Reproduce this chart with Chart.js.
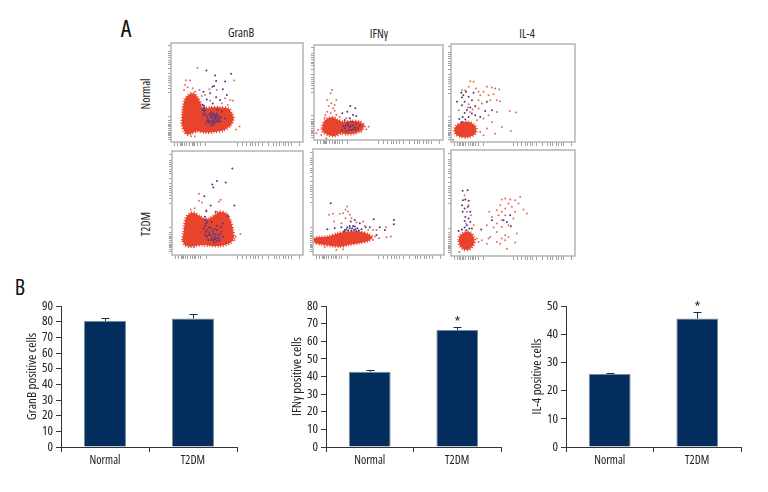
<!DOCTYPE html>
<html>
<head>
<meta charset="utf-8">
<title>GranB, IFNγ and IL-4 positive cells</title>
<script src="https://cdn.jsdelivr.net/npm/chart.js@4"></script>
<style>
  html, body { margin: 0; padding: 0; background: #fff; }
  #page { position: relative; width: 768px; height: 492px; overflow: hidden; font-family: "Open Sans", sans-serif; font-stretch: condensed; color: #222; }
  canvas { position: absolute; display: block; }
  .lbl { position: absolute; font-size: 12px; line-height: 14px; white-space: nowrap; transform: translate(-50%, -50%); }
  .rot { transform: translate(-50%, -50%) rotate(-90deg); }
  .big { font-size: 24px; line-height: 26px; color: #111; }
  .flow { filter: blur(0.5px); }

  /* flow panels: box is the frame plus 6px for the ticks on each side */
  #granbNormal { left: 165px; top: 37px;  width: 144px; height: 111px; }
  #granbT2dm   { left: 166px; top: 145px; width: 143px; height: 116px; }
  #ifnNormal   { left: 308px; top: 39px;  width: 141px; height: 107px; }
  #ifnT2dm     { left: 307px; top: 143px; width: 143px; height: 118px; }
  #il4Normal   { left: 445px; top: 38px;  width: 136px; height: 110px; }
  #il4T2dm     { left: 445px; top: 144px; width: 136px; height: 118px; }

  #barGranb { left: 10px;  top: 295px; width: 230px; height: 185px; }
  #barIfn   { left: 275px; top: 295px; width: 229px; height: 185px; }
  #barIl4   { left: 515px; top: 295px; width: 229px; height: 185px; }
</style>
</head>
<body>
<div id="page">
  <div class="lbl big" style="left:126px;top:28px">A</div>
  <div class="lbl big" style="left:20px;top:286px;font-size:22px">B</div>
  <div class="lbl" style="left:241px;top:33px">GranB</div>
  <div class="lbl" style="left:379px;top:34px">IFNγ</div>
  <div class="lbl" style="left:527px;top:34px">IL-4</div>
  <div class="lbl rot" style="left:146px;top:94px">Normal</div>
  <div class="lbl rot" style="left:146px;top:224px">T2DM</div>

  <canvas class="flow" id="granbNormal" width="144" height="111"></canvas>
  <canvas class="flow" id="granbT2dm" width="143" height="116"></canvas>
  <canvas class="flow" id="ifnNormal" width="141" height="107"></canvas>
  <canvas class="flow" id="ifnT2dm" width="143" height="118"></canvas>
  <canvas class="flow" id="il4Normal" width="136" height="110"></canvas>
  <canvas class="flow" id="il4T2dm" width="136" height="118"></canvas>

  <canvas id="barGranb" width="230" height="185"></canvas>
  <canvas id="barIfn" width="229" height="185"></canvas>
  <canvas id="barIl4" width="229" height="185"></canvas>
</div>

<script>
'use strict';

// bar charts
var groups = ['Normal', 'T2DM'];
var granbMeans = [80.4, 82.1];
var granbUpper = [82.1, 84.7];
var ifnMeans = [42.7, 66.4];
var ifnUpper = [43.6, 68.2];
var il4Means = [25.9, 45.6];
var il4Upper = [26.4, 47.8];
var granbStars = ['', ''];
var ifnStars = ['', '*'];
var il4Stars = ['', '*'];

// flow panels, [x, y] channel values
// the *Core lists trace the edge of the solid red populations
var granbNormalCore = [[32,55],[35,95],[41,125],[52,140],[67,145],[79,133],[89,115],[95,100],[117,103],[147,103],[172,100],[182,85],[187,70],[179,50],[157,35],[127,30],[102,28],[79,32],[62,26],[49,22],[39,33],[32,55]];
var granbNormalDark = [[95,110],[97,100],[100,90],[96,83],[102,95],[107,77],[112,65],[117,55],[122,70],[127,80],[132,75],[137,85],[142,70],[135,60],[145,77],[129,65],[123,50],[147,60],[115,83],[105,55],[139,95],[152,90],[162,70],[120,62],[130,55],[138,78],[125,85],[150,72],[110,70],[118,75],[128,72],[134,67],[140,62],[100,102],[95,95],[125,60],[132,82],[121,78],[143,66],[136,72],[127,58],[113,60],[108,62],[119,88],[103,82],[99,108],[124,165],[129,167],[135,182],[132,198],[106,213],[162,180],[180,203],[155,157],[97,150],[117,145],[107,127],[135,133],[167,140],[147,125],[125,115]];
var granbNormalRed = [[79,221],[45,184],[57,183],[189,183],[42,170],[39,155],[50,163],[65,160],[72,150],[85,155],[115,157],[137,155],[162,130],[177,125],[185,123],[170,110],[152,115],[205,46],[195,37],[72,17],[60,17],[117,123],[102,140],[92,137]];

var granbT2dmCore = [[31,45],[35,70],[41,110],[53,125],[65,127],[83,117],[95,110],[113,110],[143,130],[163,125],[175,105],[183,75],[185,50],[173,35],[143,27],[113,28],[93,30],[71,28],[53,25],[38,30],[31,45]];
var granbT2dmDark = [[98,105],[103,95],[95,80],[101,70],[105,55],[109,45],[116,60],[123,65],[128,55],[133,50],[138,60],[143,45],[125,45],[135,75],[118,80],[111,83],[148,70],[153,95],[168,117],[131,130],[103,132],[118,100],[153,55],[120,52],[130,62],[140,52],[126,38],[112,68],[100,88],[146,84],[100,60],[110,60],[122,72],[128,78],[118,45],[136,42],[145,62],[129,48],[134,88],[105,100],[99,115],[106,75],[181,260],[135,223],[161,218],[121,212],[124,203],[97,177],[116,149],[187,149]];
var granbT2dmRed = [[81,184],[81,163],[90,158],[141,161],[146,166],[68,141],[56,137],[191,55],[205,63],[188,45],[65,23],[103,135]];

var ifnNormalCore = [[24,35],[30,55],[42,65],[57,68],[72,60],[87,55],[112,57],[137,55],[150,45],[144,30],[122,20],[97,17],[82,20],[62,12],[42,15],[27,25],[24,35]];
var ifnNormalDark = [[87,42],[92,35],[102,45],[107,38],[112,30],[117,45],[122,38],[97,27],[127,48],[132,35],[100,50],[137,42],[114,55],[84,30],[95,42],[110,42],[118,32],[125,30],[105,30],[109,102],[124,95],[100,85],[85,80],[117,75],[127,72],[107,65],[92,60]];
var ifnNormalRed = [[54,150],[50,140],[40,120],[67,120],[62,105],[44,102],[52,110],[57,95],[40,85],[62,88],[50,80],[67,75],[34,75],[32,67],[77,70],[97,65],[152,40],[164,40],[157,32],[12,30],[22,15],[7,20],[37,5],[142,25],[127,20]];

var ifnT2dmCore = [[2,50],[15,53],[45,55],[75,65],[105,70],[140,70],[165,62],[178,53],[165,42],[135,35],[105,30],[80,25],[55,27],[25,32],[5,37],[2,50]];
var ifnT2dmDark = [[95,75],[103,83],[110,87],[117,80],[125,85],[133,80],[137,73],[93,70],[105,73],[115,73],[123,75],[130,70],[100,77],[110,80],[120,87],[127,77],[85,83],[145,77],[65,80],[53,155],[43,77],[113,100],[125,105],[140,95],[182,107],[158,83],[170,83],[200,83],[242,105],[242,92],[215,75],[190,60]];
var ifnT2dmRed = [[102,145],[97,135],[105,130],[90,125],[110,120],[97,110],[115,110],[80,123],[60,123],[48,120],[63,100],[85,95],[130,97],[150,100],[155,87],[165,75],[180,75],[190,75],[218,83],[198,50],[220,53],[233,55],[185,55],[90,17],[70,15],[35,23],[180,45]];

var il4NormalCore = [[10,40],[18,50],[33,58],[53,60],[68,53],[76,40],[73,25],[53,15],[28,16],[13,25],[10,40]];
var il4NormalDark = [[31,147],[37,140],[45,150],[33,133],[53,135],[63,125],[41,120],[73,107],[58,103],[33,110],[48,95],[18,120],[25,69],[35,75],[43,67],[53,75],[63,85],[73,80],[88,75],[103,93],[108,120],[123,95],[33,60],[41,87],[68,147]];
var il4NormalRed = [[58,182],[68,180],[53,165],[75,160],[43,155],[83,150],[98,150],[108,165],[123,163],[133,160],[145,157],[88,140],[113,140],[128,143],[138,125],[148,122],[118,125],[83,125],[93,115],[53,113],[58,90],[51,103],[65,97],[83,100],[98,70],[113,80],[123,60],[138,90],[177,93],[195,88],[180,33],[153,45],[133,25],[98,20],[88,30],[108,40],[33,155],[23,95],[78,65],[6,7]];

var il4T2dmCore = [[23,47],[28,62],[43,72],[58,70],[68,57],[71,42],[63,27],[53,19],[38,20],[26,32],[23,47]];
var il4T2dmDark = [[35,195],[50,197],[36,167],[43,169],[53,165],[33,152],[41,142],[51,147],[35,132],[58,132],[43,117],[53,112],[41,105],[58,102],[48,92],[41,85],[55,82],[63,82],[33,79],[23,75],[46,77],[91,79],[123,107],[158,107],[178,122],[168,102],[180,89]];
var il4T2dmRed = [[41,182],[53,152],[48,132],[60,122],[45,97],[68,92],[208,177],[193,167],[178,169],[163,172],[153,169],[203,157],[173,157],[148,152],[183,147],[163,142],[138,137],[153,132],[115,132],[193,132],[218,139],[228,127],[143,122],[163,122],[123,117],[188,112],[153,107],[138,97],[128,85],[108,92],[173,92],[153,87],[138,72],[163,62],[173,57],[153,52],[118,57],[93,47],[78,52],[83,42],[108,37],[138,42],[163,47],[193,40],[168,22],[148,37],[25,12],[113,52],[198,67]];

// biexponential tick marks along the flow axes, as a share of the axis
var flowTicks = [0.03, 0.05, 0.07, 0.08, 0.09, 0.1, 0.12, 0.14, 0.16, 0.17, 0.18, 0.2, 0.22, 0.26, 0.5, 0.54, 0.57, 0.6, 0.62, 0.64, 0.66, 0.69, 0.74, 0.78, 0.8, 0.82, 0.85, 0.87, 0.89, 0.91, 0.97];

var INK = '#333';
var BAR_FILL = '#032d5c';
var CORE_RED = '#e8432c';
var DOT_RED = '#e0705c';
var DOT_DARK = '#4a3a86';
// chart.js passes weight straight into the canvas font string, which lets us ask for the condensed face
var LABEL_FONT = { family: '"Open Sans", sans-serif', weight: 'condensed' };

function labelFont(size) {
  return { family: LABEL_FONT.family, weight: LABEL_FONT.weight, size: size };
}

function toPoints(pairs) {
  return pairs.map(function (p) {
    return { x: p[0], y: p[1] };
  });
}

function tickMarks(scale, max) {
  scale.ticks = flowTicks.map(function (f) {
    return { value: f * max };
  });
}

// grey box round a flow panel
var panelFrame = {
  id: 'panelFrame',
  afterDraw: function (chart) {
    var a = chart.chartArea;
    var ctx = chart.ctx;
    ctx.save();
    ctx.strokeStyle = '#b4b4b4';
    ctx.lineWidth = 1.5;
    ctx.strokeRect(a.left, a.top, a.right - a.left, a.bottom - a.top);
    ctx.restore();
  }
};

// upper whisker and significance star for the bar charts
var whiskers = {
  id: 'whiskers',
  afterDatasetsDraw: function (chart) {
    var ds = chart.data.datasets[0];
    var bars = chart.getDatasetMeta(0).data;
    var y = chart.scales.y;
    var ctx = chart.ctx;
    ctx.save();
    ctx.strokeStyle = '#1c2c44';
    ctx.fillStyle = '#222';
    ctx.lineWidth = 1;
    ctx.textAlign = 'center';
    ctx.textBaseline = 'middle';
    ctx.font = 'condensed 15px ' + LABEL_FONT.family;
    bars.forEach(function (bar, i) {
      var top = Math.round(y.getPixelForValue(ds.upper[i])) + 0.5;
      var x = Math.round(bar.x) + 0.5;
      ctx.beginPath();
      ctx.moveTo(x, top);
      ctx.lineTo(x, y.getPixelForValue(ds.data[i]));
      ctx.moveTo(x - 4, top);
      ctx.lineTo(x + 4, top);
      ctx.stroke();
      if (ds.stars[i]) {
        ctx.fillText(ds.stars[i], x, top - 5);
      }
    });
    ctx.restore();
  }
};

function renderFlowPanel(id, core, dark, red, xMax, yMax) {
  function flowAxis(size, max, onFit) {
    return {
      type: 'linear',
      min: 0,
      max: max,
      border: { display: false },
      grid: { drawOnChartArea: false, tickLength: size, color: '#8a8a8a', lineWidth: 0.8 },
      ticks: { display: false },
      afterBuildTicks: function (s) { tickMarks(s, max); },
      afterFit: onFit
    };
  }

  new Chart(document.getElementById(id), {
    type: 'scatter',
    data: {
      datasets: [
        { data: toPoints(dark), pointRadius: 1, pointBackgroundColor: DOT_DARK, pointBorderWidth: 0, order: 1 },
        { data: toPoints(red), pointRadius: 1, pointBackgroundColor: DOT_RED, pointBorderWidth: 0, order: 2 },
        {
          // stippled edge stands in for the loose cells round the population
          data: toPoints(core), showLine: true, fill: 'shape', tension: 0.25, pointRadius: 0,
          borderColor: CORE_RED, borderWidth: 3, borderDash: [1, 1.7], backgroundColor: CORE_RED, order: 3
        }
      ]
    },
    options: {
      responsive: false,
      animation: false,
      layout: { padding: { top: 6, right: 6 } },
      plugins: { legend: { display: false }, tooltip: { enabled: false } },
      scales: {
        x: flowAxis(4, xMax, function (s) { s.height = 6; }),
        y: flowAxis(3, yMax, function (s) { s.width = 6; })
      }
    },
    plugins: [panelFrame]
  });
}

function renderBars(id, means, upper, stars, yMax, step, axisLabel) {
  new Chart(document.getElementById(id), {
    type: 'bar',
    data: {
      labels: groups,
      datasets: [{
        data: means,
        upper: upper,
        stars: stars,
        backgroundColor: BAR_FILL,
        borderColor: '#76879a',
        borderWidth: 1,
        barPercentage: 0.477,
        categoryPercentage: 1
      }]
    },
    options: {
      responsive: false,
      animation: false,
      layout: { padding: { top: 11, right: 3 } },
      plugins: { legend: { display: false }, tooltip: { enabled: false } },
      scales: {
        x: {
          border: { color: INK },
          grid: { drawOnChartArea: false, tickLength: 5, color: INK },
          ticks: { color: '#222', font: labelFont(12), padding: 1, maxRotation: 0 },
          afterFit: function (s) { s.height = 33; }
        },
        y: {
          min: 0,
          max: yMax,
          border: { color: INK },
          grid: { drawOnChartArea: false, tickLength: 5, color: INK },
          ticks: { stepSize: step, autoSkip: false, color: '#222', font: labelFont(13), padding: 3 },
          title: {
            display: true,
            text: axisLabel,
            color: '#222',
            font: labelFont(13),
            padding: { top: 14, bottom: 0 }
          },
          afterFit: function (s) { s.width = 51; }
        }
      }
    },
    plugins: [whiskers]
  });
}

renderFlowPanel('granbNormal', granbNormalCore, granbNormalDark, granbNormalRed, 395, 295);
renderFlowPanel('granbT2dm', granbT2dmCore, granbT2dmDark, granbT2dmRed, 393, 313);
renderFlowPanel('ifnNormal', ifnNormalCore, ifnNormalDark, ifnNormalRed, 387, 285);
renderFlowPanel('ifnT2dm', ifnT2dmCore, ifnT2dmDark, ifnT2dmRed, 392, 317);
renderFlowPanel('il4Normal', il4NormalCore, il4NormalDark, il4NormalRed, 373, 293);
renderFlowPanel('il4T2dm', il4T2dmCore, il4T2dmDark, il4T2dmRed, 373, 317);

renderBars('barGranb', granbMeans, granbUpper, granbStars, 90, 10, 'GranB positive cells');
renderBars('barIfn', ifnMeans, ifnUpper, ifnStars, 80, 10, 'IFNγ positive cells');
renderBars('barIl4', il4Means, il4Upper, il4Stars, 50, 10, 'IL-4 positive cells');
</script>
</body>
</html>
